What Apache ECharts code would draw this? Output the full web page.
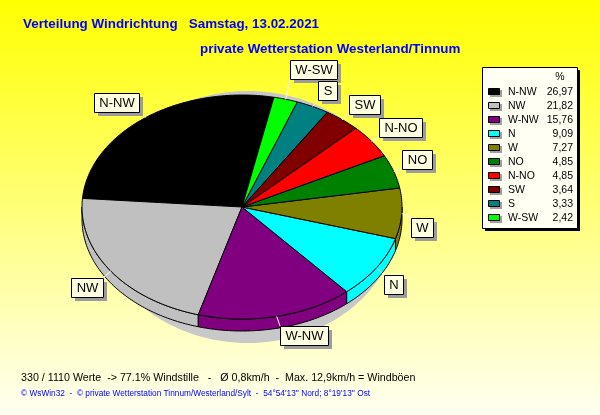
<!DOCTYPE html>
<html>
<head>
<meta charset="utf-8">
<script src="https://cdn.jsdelivr.net/npm/echarts@6.0.0/dist/echarts.min.js"></script>
<style>
html, body { margin: 0; padding: 0; }
#chart { width: 600px; height: 415px; }
</style>
</head>
<body>
<div id="chart"></div>
<script>
// daten
var directions = ['N-NW', 'NW', 'W-NW', 'N', 'W', 'NO', 'N-NO', 'SW', 'S', 'W-SW'];
var percents = [26.97, 21.82, 15.76, 9.09, 7.27, 4.85, 4.85, 3.64, 3.33, 2.42];
var sliceColors = ['#000000', '#c0c0c0', '#800080', '#00ffff', '#808000', '#008000', '#ff0000', '#800000', '#008080', '#00ff00'];

var titleText = 'Verteilung Windrichtung   Samstag, 13.02.2021';
var subtitleText = 'private Wetterstation Westerland/Tinnum';
var summaryText = '330 / 1110 Werte  -> 77.1% Windstille   -   \u00d8 0,8km/h  -  Max. 12,9km/h = Windb\u00f6en';
var footerText = '\u00a9 WsWin32  -  \u00a9 private Wetterstation Tinnum/Westerland/Sylt  -  54\u00b054\'13\'\' Nord; 8\u00b019\'13\'\' Ost';

var FONT = '"Liberation Sans", Arial, sans-serif';
var pie = { cx: 242, cy: 207, rx: 160, ry: 112, depth: 12, startAngle: 78.5 };
var legendBox = { x: 482, y: 67, w: 95, h: 161, rowTop: 91.7, rowStep: 14.07 };
var labelFont = '13px ' + FONT;

// winkel der segmente (gegen uhrzeigersinn)
var total = percents.reduce(function (s, v) { return s + v; }, 0);
var sliceAngles = [];
(function () {
    var acc = pie.startAngle;
    for (var i = 0; i < percents.length; i++) {
        var sweep = percents[i] / total * 360;
        sliceAngles.push([acc, acc + sweep]);
        acc += sweep;
    }
})();

function ellipsePoint(a, dy) {
    var r = a * Math.PI / 180;
    return [pie.cx + pie.rx * Math.cos(r), pie.cy - pie.ry * Math.sin(r) + (dy || 0)];
}
function arcPoints(a0, a1, dy) {
    var n = Math.max(2, Math.ceil(Math.abs(a1 - a0)));
    var pts = [];
    for (var k = 0; k <= n; k++) {
        pts.push(ellipsePoint(a0 + (a1 - a0) * k / n, dy));
    }
    return pts;
}

var measureCtx = document.createElement('canvas').getContext('2d');
function textWidth(t, font) {
    measureCtx.font = font;
    return measureCtx.measureText(t).width;
}

// beschriftungen platzieren
function layoutLabels() {
    var boxes = [];
    for (var i = 0; i < directions.length; i++) {
        var a = (sliceAngles[i][0] + sliceAngles[i][1]) / 2;
        var r = a * Math.PI / 180, c = Math.cos(r), s = Math.sin(r);
        var p = ellipsePoint(a, 0);
        var w = Math.round(textWidth(directions[i], labelFont)) + 10, h = 19;
        var x = c >= 0 ? p[0] + 2 + 7 * Math.abs(c) : p[0] - 2 - 7 * Math.abs(c) - w;
        var y = s >= 0 ? p[1] - 7 * s - h : p[1] + 4 - 6 * s;
        for (var guard = 0; guard < 20; guard++) {
            var hit = null;
            for (var j = 0; j < boxes.length; j++) {
                var b = boxes[j];
                if (x < b.x + b.w + 2 && x + w + 2 > b.x && y < b.y + b.h + 2 && y + h + 2 > b.y) { hit = b; break; }
            }
            if (!hit) break;
            y = s >= 0 ? hit.y - h - 2 : hit.y + hit.h + 2;
        }
        boxes.push({
            x: Math.round(x), y: Math.round(y), w: w, h: h,
            ax: p[0], ay: p[1],
            lx: c >= 0 ? Math.round(x) : Math.round(x) + w,
            ly: s >= 0 ? Math.round(y) + h : Math.round(y)
        });
    }
    return boxes;
}
var labelBoxes = layoutLabels();

function renderSlice(params, api) {
    var i = params.dataIndex;
    var ang = sliceAngles[i];
    var color = sliceColors[i];
    var children = [];

    if (i === 0) {
        // schatten unter der torte
        var sh = [];
        for (var d = 0; d <= 360; d += 2) {
            var rr = d * Math.PI / 180;
            sh.push([pie.cx + 6 + 150 * Math.cos(rr), pie.cy + 10 - 126 * Math.sin(rr)]);
        }
        children.push({ type: 'polygon', z2: -5, shape: { points: sh }, style: { fill: '#c8c8c8' } });
    }

    // seitenflaeche
    var s0 = Math.max(ang[0], 180), s1 = Math.min(ang[1], 360);
    if (s1 > s0) {
        children.push({
            type: 'polygon', z2: 1,
            shape: { points: arcPoints(s0, s1, 0).concat(arcPoints(s1, s0, pie.depth)) },
            style: { fill: color, stroke: '#000', lineWidth: 1 }
        });
    }
    // oberseite
    children.push({
        type: 'polygon', z2: 2,
        shape: { points: [[pie.cx, pie.cy]].concat(arcPoints(ang[0], ang[1], 0)) },
        style: { fill: color, stroke: '#000', lineWidth: 1 }
    });

    // beschriftung
    var b = labelBoxes[i];
    children.push({ type: 'line', z2: 5, shape: { x1: b.ax, y1: b.ay, x2: b.lx, y2: b.ly }, style: { stroke: '#ffffff', lineWidth: 1 } });
    children.push({ type: 'rect', z2: 6, shape: { x: b.x + 4, y: b.y + 4, width: b.w, height: b.h }, style: { fill: '#9c9c9c' } });
    children.push({ type: 'rect', z2: 7, shape: { x: b.x + 0.5, y: b.y + 0.5, width: b.w, height: b.h }, style: { fill: '#ffffe1', stroke: '#000', lineWidth: 1 } });
    children.push({
        type: 'text', z2: 8, x: b.x + b.w / 2 + 0.5, y: b.y + b.h / 2 + 1,
        style: { text: api.value(1), font: labelFont, fill: '#000', align: 'center', verticalAlign: 'middle', textAlign: 'center', textVerticalAlign: 'middle' }
    });

    // legendenzeile
    var ly = legendBox.rowTop + i * legendBox.rowStep;
    var legFont = '10.5px ' + FONT;
    children.push({ type: 'rect', z2: 10, shape: { x: 490, y: Math.round(ly) - 2, width: 12, height: 7 }, style: { fill: '#a0a0a0' } });
    children.push({ type: 'rect', z2: 11, shape: { x: 488.5, y: Math.round(ly) - 3.5, width: 11, height: 6 }, style: { fill: color, stroke: '#000', lineWidth: 1 } });
    children.push({
        type: 'text', z2: 11, x: 508, y: ly,
        style: { text: api.value(1), font: legFont, fill: '#000', align: 'left', verticalAlign: 'middle', textAlign: 'left', textVerticalAlign: 'middle' }
    });
    children.push({
        type: 'text', z2: 11, x: 573, y: ly,
        style: { text: api.value(0).toFixed(2).replace('.', ','), font: legFont, fill: '#000', align: 'right', verticalAlign: 'middle', textAlign: 'right', textVerticalAlign: 'middle' }
    });

    return { type: 'group', children: children };
}

var chart = echarts.init(document.getElementById('chart'), null, { renderer: 'canvas' });
var option = {
    animation: false,
    backgroundColor: new echarts.graphic.LinearGradient(0, 0, 0, 1, [
        { offset: 0, color: '#ffff00' },
        { offset: 1, color: '#fffff2' }
    ]),
    title: [
        { text: titleText, left: 23, top: 18, padding: 0, textStyle: { color: '#0000ff', fontWeight: 'bold', fontSize: 13.4, fontFamily: FONT } },
        { text: subtitleText, left: 200, top: 43, padding: 0, textStyle: { color: '#0000ff', fontWeight: 'bold', fontSize: 13.4, fontFamily: FONT } }
    ],
    graphic: [
        { type: 'rect', z: 0, shape: { x: legendBox.x + 3, y: legendBox.y + 3, width: legendBox.w, height: legendBox.h }, style: { fill: '#000' } },
        { type: 'rect', z: 0, shape: { x: legendBox.x + 0.5, y: legendBox.y + 0.5, width: legendBox.w, height: legendBox.h }, style: { fill: '#fffff4', stroke: '#000', lineWidth: 1 } },
        { type: 'text', z: 1, x: 560, y: 77, style: { text: '%', font: '10.5px ' + FONT, fill: '#000', align: 'center', verticalAlign: 'middle', textAlign: 'center', textVerticalAlign: 'middle' } },
        { type: 'text', z: 1, x: 21, y: 378, style: { text: summaryText, font: '10.7px ' + FONT, fill: '#000', align: 'left', verticalAlign: 'middle', textAlign: 'left', textVerticalAlign: 'middle' } },
        { type: 'text', z: 1, x: 21, y: 394, style: { text: footerText, font: '8.3px ' + FONT, fill: '#0000ff', align: 'left', verticalAlign: 'middle', textAlign: 'left', textVerticalAlign: 'middle' } }
    ],
    series: [{
        type: 'custom',
        coordinateSystem: 'none',
        renderItem: renderSlice,
        silent: true,
        data: percents.map(function (v, i) { return [v, directions[i]]; })
    }]
};
chart.setOption(option);
</script>
</body>
</html>
